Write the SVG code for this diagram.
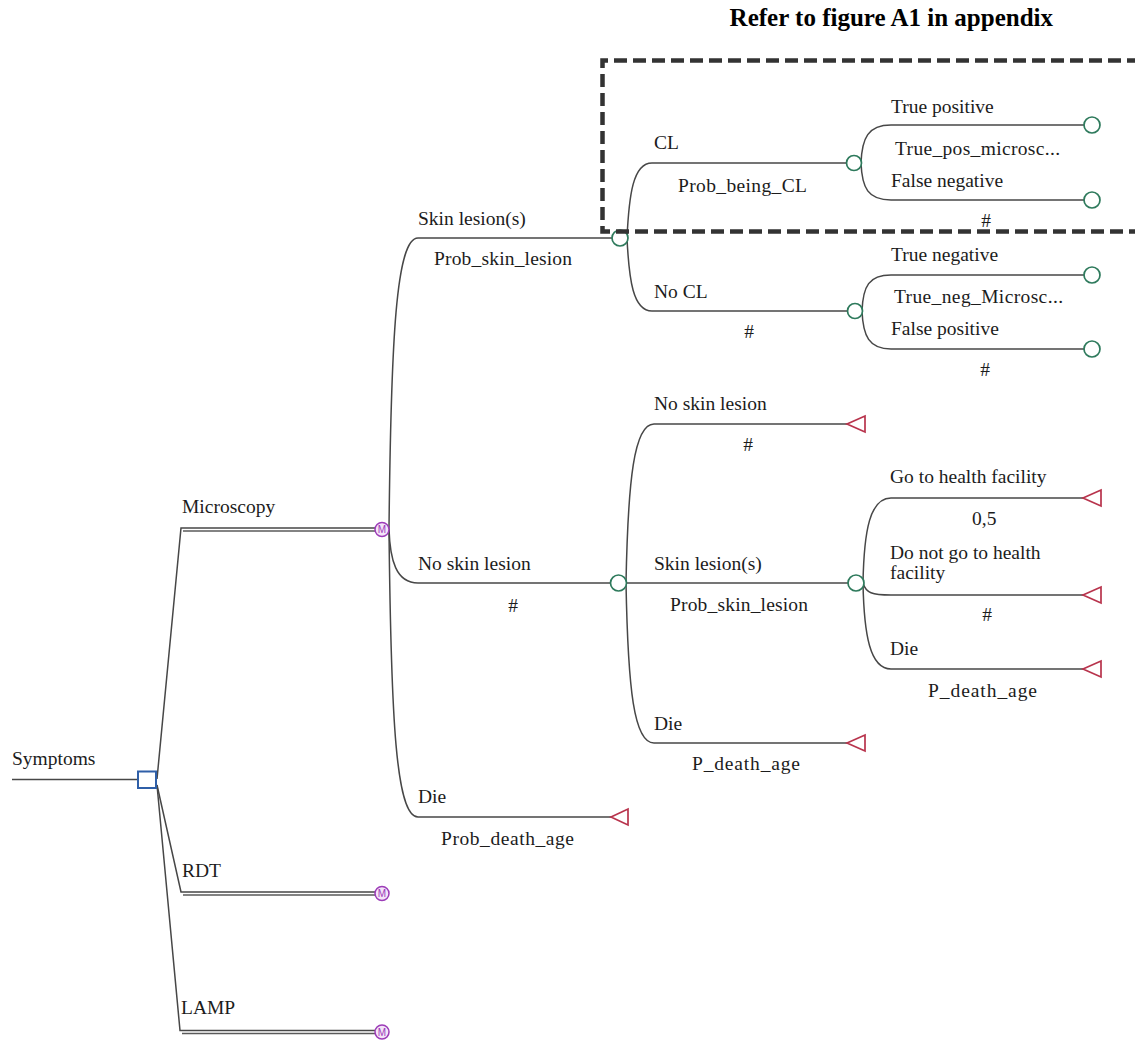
<svg xmlns="http://www.w3.org/2000/svg" width="1135" height="1040" viewBox="0 0 1135 1040">
<style>
  .t{font-family:"Liberation Serif","Times New Roman",serif;font-size:19.5px;fill:#1c1c1c}
  .ttl{font-family:"Liberation Serif","Times New Roman",serif;font-size:25px;font-weight:bold;fill:#000}
  .ln{fill:none;stroke:#474747;stroke-width:1.5}
  .dbl{fill:none;stroke:#5a5a5a;stroke-width:1.3}
  .ch{fill:#fff;stroke:#2e7a5c;stroke-width:1.7}
  .term{fill:#fff;stroke:#2e7a5c;stroke-width:1.7}
  .tri{fill:#fff;stroke:#b8334c;stroke-width:1.7;stroke-linejoin:miter}
  .dec{fill:#fff;stroke:#2f5fa8;stroke-width:2}
  .mk{fill:#f4e4f8;stroke:#9c3cb8;stroke-width:1.5}
  .mt{font-family:"Liberation Sans",Arial,sans-serif;font-size:10px;fill:#9c3cb8;text-anchor:middle}
  .box{fill:none;stroke:#333;stroke-width:4.5;stroke-dasharray:13 6}
</style>

<text class="ttl" x="1053" y="26" text-anchor="end">Refer to figure A1 in appendix</text>

<g id="connectors">
  <path class="ln" d="M12,779.5 H138"/>
  <path class="ln" d="M157,779 L181,528 H375"/>
  <path class="dbl" d="M183,531 H375"/>
  <path class="ln" d="M157,785 L181,892 H375"/>
  <path class="dbl" d="M183,895 H375"/>
  <path class="ln" d="M157,785 L180,1030.5 H375"/>
  <path class="dbl" d="M182,1033.5 H375"/>
  <path class="ln" d="M389,529 C391,340 396,238 418,238 H612"/>
  <path class="ln" d="M389,529 C390,560 396,583 418,583 H611"/>
  <path class="ln" d="M389,529 C391,720 396,817 418,817 H611"/>
  <path class="ln" d="M627,238 C629,195 633,163 652,163 H846"/>
  <path class="ln" d="M627,238 C629,280 633,311 652,311 H847"/>
  <path class="ln" d="M626,583 C628,480 634,424 654,424 H847"/>
  <path class="ln" d="M626,583 H848"/>
  <path class="ln" d="M626,583 C628,690 634,743 654,743 H847"/>
  <path class="ln" d="M861,163 C862,138 868,125 891,125 H1084"/>
  <path class="ln" d="M861,163 C862,188 868,200 891,200 H1084"/>
  <path class="ln" d="M862,311 C863,286 869,275 891,275 H1084"/>
  <path class="ln" d="M862,311 C863,336 869,349 891,349 H1084"/>
  <path class="ln" d="M863,583 C864,530 870,498 891,498 H1083"/>
  <path class="ln" d="M863,583 C866,593 872,595 891,595 H1083"/>
  <path class="ln" d="M863,583 C864,635 870,669 891,669 H1083"/>
</g>

<g id="n-symptoms">
  <rect class="dec" x="138" y="771.5" width="18" height="16.5"/>
  <text class="t" x="12" y="765">Symptoms</text>
</g>

<g id="n-microscopy">
  <text class="t" x="182" y="513">Microscopy</text>
  <circle class="mk" cx="382" cy="529.5" r="7"/>
  <text class="mt" x="382" y="533">M</text>
</g>
<g id="n-rdt">
  <text class="t" x="182" y="877">RDT</text>
  <circle class="mk" cx="382" cy="893.5" r="7"/>
  <text class="mt" x="382" y="897">M</text>
</g>
<g id="n-lamp">
  <text class="t" x="181" y="1014">LAMP</text>
  <circle class="mk" cx="382" cy="1032" r="7"/>
  <text class="mt" x="382" y="1035.5">M</text>
</g>

<g id="n-skin-lesion">
  <text class="t" x="418" y="225">Skin lesion(s)</text>
  <text class="t" x="434" y="265" textLength="138">Prob_skin_lesion</text>
  <circle class="ch" cx="620" cy="238" r="8"/>
</g>
<g id="n-no-skin-lesion">
  <text class="t" x="418" y="570">No skin lesion</text>
  <text class="t" x="513" y="612" text-anchor="middle">#</text>
  <circle class="ch" cx="618.5" cy="583" r="8"/>
</g>
<g id="n-die-1">
  <text class="t" x="418" y="803">Die</text>
  <text class="t" x="441" y="845" textLength="133">Prob_death_age</text>
  <polygon class="tri" points="611,817 628,809 628,825"/>
</g>

<g id="n-cl">
  <text class="t" x="654" y="149">CL</text>
  <text class="t" x="678" y="192" textLength="129">Prob_being_CL</text>
  <circle class="ch" cx="854" cy="163" r="7.5"/>
</g>
<g id="n-no-cl">
  <text class="t" x="654" y="298">No CL</text>
  <text class="t" x="749" y="338" text-anchor="middle">#</text>
  <circle class="ch" cx="855" cy="311" r="7.5"/>
</g>

<g id="n-true-positive">
  <text class="t" x="891" y="113">True positive</text>
  <text class="t" x="895" y="155" textLength="165">True_pos_microsc...</text>
  <circle class="term" cx="1092" cy="125" r="8"/>
</g>
<g id="n-false-negative">
  <text class="t" x="891" y="187">False negative</text>
  <text class="t" x="986" y="227" text-anchor="middle">#</text>
  <circle class="term" cx="1092" cy="200" r="8"/>
</g>
<g id="n-true-negative">
  <text class="t" x="891" y="261">True negative</text>
  <text class="t" x="894" y="303" textLength="169">True_neg_Microsc...</text>
  <circle class="term" cx="1092" cy="275" r="8"/>
</g>
<g id="n-false-positive">
  <text class="t" x="891" y="335">False positive</text>
  <text class="t" x="985" y="376" text-anchor="middle">#</text>
  <circle class="term" cx="1092" cy="349" r="8"/>
</g>

<g id="n-no-skin-lesion-2">
  <text class="t" x="654" y="410">No skin lesion</text>
  <text class="t" x="748" y="451" text-anchor="middle">#</text>
  <polygon class="tri" points="847,424 865,416 865,432"/>
</g>
<g id="n-skin-lesion-2">
  <text class="t" x="654" y="570">Skin lesion(s)</text>
  <text class="t" x="670" y="611" textLength="138">Prob_skin_lesion</text>
  <circle class="ch" cx="856" cy="583" r="8"/>
</g>
<g id="n-die-2">
  <text class="t" x="654" y="730">Die</text>
  <text class="t" x="692" y="770" textLength="108">P_death_age</text>
  <polygon class="tri" points="847,743 865,735 865,751"/>
</g>

<g id="n-go-health">
  <text class="t" x="890" y="483">Go to health facility</text>
  <text class="t" x="972" y="525">0,5</text>
  <polygon class="tri" points="1083,498 1101,490 1101,506"/>
</g>
<g id="n-not-go-health">
  <text class="t" x="890" y="559">Do not go to health</text>
  <text class="t" x="890" y="579">facility</text>
  <text class="t" x="987" y="621" text-anchor="middle">#</text>
  <polygon class="tri" points="1083,595 1101,587 1101,603"/>
</g>
<g id="n-die-3">
  <text class="t" x="890" y="655">Die</text>
  <text class="t" x="928" y="697" textLength="109">P_death_age</text>
  <polygon class="tri" points="1083,669 1101,661 1101,677"/>
</g>

<path class="box" d="M1140,60.5 H602.5 V231.5 H1140"/>
</svg>
